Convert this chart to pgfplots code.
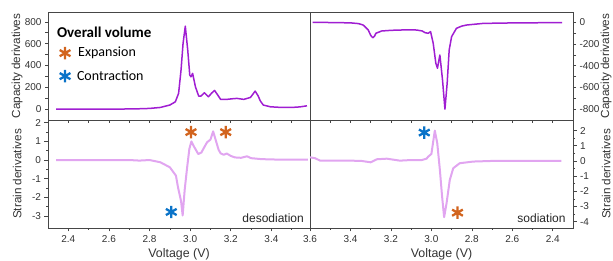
\documentclass[border=0pt]{standalone}
\usepackage{pgfplots}
\pgfplotsset{compat=1.18}
\usepackage{fontspec}
\setmainfont{Liberation Sans}
\newfontfamily\calib{Carlito}
\definecolor{capc}{RGB}{160,30,210}
\definecolor{strc}{RGB}{225,165,240}
\definecolor{expc}{RGB}{210,100,30}
\definecolor{conc}{RGB}{10,115,200}
\definecolor{axc}{RGB}{70,70,70}
\pgfplotsset{
  base/.style={
    scale only axis, width=262pt, height=108pt,
    axis line style={axc, line width=0.8pt},
    every tick/.style={axc, line width=0.6pt},
    tick align=outside,
    major tick length=3.5pt, minor tick length=2pt,
    tick label style={font=\fontsize{10}{12}\selectfont, text=black!80},
    /pgf/number format/assume math mode=true,
    xmin=2.30, clip=true,
  },
  ylab left/.style={every axis y label/.style={at={(axis description cs:-0.118,0.5)}, rotate=90, anchor=center, font=\fontsize{11.7}{13}\selectfont, text=black!80}},
  ylab right/.style={every axis y label/.style={at={(axis description cs:1.126,0.5)}, rotate=90, anchor=center, font=\fontsize{11.7}{13}\selectfont, text=black!80}},
  xlab/.style={every axis x label/.style={at={(axis description cs:0.5,-0.245)}, anchor=center, font=\fontsize{12.4}{14}\selectfont, text=black!80}},
  ast/.style={only marks, mark=asterisk, mark size=6.2pt, line width=2.3pt},
}
\begin{document}
\begin{tikzpicture}
\path[use as bounding box] (0,0) rectangle (613pt,261pt);
% top left
\begin{axis}[base, at={(48pt,141pt)}, anchor=south west,
  xmax=3.59, ymin=-100, ymax=890,
  xtick={2.4,2.6,...,3.6}, minor x tick num=1, xticklabels={},
  xtick pos=bottom, major tick length=3pt, minor tick length=3pt,
  ytick={0,200,400,600,800}, minor y tick num=1, ytick pos=left,
  ylabel={Capacity derivatives}, ylab left,
]
\addplot[capc, line width=1.5pt, line join=round] coordinates {
(2.34,0)(2.50,0)(2.60,0)(2.70,1)(2.75,3)(2.80,6)(2.853,15)(2.90,37)(2.927,67)(2.943,144)
(2.955,357)(2.965,602)(2.976,760)(2.988,541)(2.998,312)(3.004,296)(3.012,327)(3.026,204)
(3.042,119)(3.053,119)(3.07,150)(3.09,113)(3.105,145)(3.12,171)(3.136,128)(3.15,89)
(3.18,89)(3.21,95)(3.23,98)(3.264,89)(3.297,107)(3.32,165)(3.335,120)(3.345,76)(3.36,37)
(3.395,21)(3.45,15)(3.50,15)(3.54,20)(3.575,30)};
\addplot[ast, expc] coordinates {(2.384,513)};
\addplot[ast, conc] coordinates {(2.384,302)};
\node[anchor=west, font=\calib\bfseries\fontsize{15}{17}\selectfont, inner sep=0pt] at (axis description cs:0.034,0.815) {Overall volume};
\node[anchor=west, font=\calib\fontsize{14}{16}\selectfont, inner sep=0pt] at (axis description cs:0.1145,0.62) {Expansion};
\node[anchor=west, font=\calib\fontsize{14}{16}\selectfont, inner sep=0pt] at (axis description cs:0.11,0.407) {Contraction};
\end{axis}
% top right
\begin{axis}[base, at={(310pt,141pt)}, anchor=south west, width=263pt,
  xmax=3.60, x dir=reverse, ymin=-900, ymax=95,
  xtick={2.4,2.6,...,3.6}, minor x tick num=1, xticklabels={},
  xtick pos=bottom, major tick length=3pt, minor tick length=3pt,
  ytick={-800,-600,-400,-200,0}, minor y tick num=1, ytick pos=right,
  ylabel={Capacity derivatives}, ylab right,
]
\addplot[capc, line width=1.5pt, line join=round] coordinates {
(3.587,0)(3.50,-2)(3.40,-5)(3.36,-12)(3.337,-25)(3.312,-71)(3.30,-120)(3.29,-142)(3.282,-130)
(3.274,-101)(3.246,-80)(3.20,-74)(3.156,-71)(3.10,-70)(3.073,-71)(3.045,-80)(3.032,-95)
(3.016,-101)(3.004,-86)(2.991,-193)(2.978,-377)(2.97,-423)(2.958,-301)(2.945,-530)
(2.933,-800)(2.922,-561)(2.912,-255)(2.90,-132)(2.876,-55)(2.85,-35)(2.826,-25)(2.744,-10)
(2.58,-5)(2.354,-3)};
\end{axis}
% bottom left
\begin{axis}[base, at={(48pt,33pt)}, anchor=south west,
  xmax=3.59, ymin=-3.65, ymax=2.15,
  xtick={2.4,2.6,...,3.6}, minor x tick num=1, xtick pos=bottom,
  xticklabel style={/pgf/number format/.cd, fixed, fixed zerofill, precision=1},
  ytick={-3,-2,...,2}, minor y tick num=1, ytick pos=left,
  xlabel={Voltage (V)}, ylabel={Strain derivatives}, ylab left, xlab,
]
\addplot[strc, line width=2pt, line join=round] coordinates {
(2.34,0)(2.50,0)(2.60,0)(2.70,0)(2.75,-0.03)(2.80,0)(2.853,-0.12)(2.90,-0.39)(2.93,-0.84)
(2.94,-1.46)(2.955,-2.2)(2.963,-2.98)(2.973,-1.6)(2.985,-0.4)(2.996,0.6)(3.006,1.0)(3.02,0.7)
(3.04,0.32)(3.055,0.40)(3.07,0.70)(3.083,0.95)(3.10,1.1)(3.113,1.54)(3.125,1.1)(3.14,0.55)
(3.15,0.36)(3.165,0.28)(3.18,0.35)(3.20,0.22)(3.22,0.14)(3.25,0.12)(3.28,0.2)(3.30,0.1)
(3.35,0.05)(3.40,0.03)(3.50,0.02)(3.58,0.02)};
\addplot[ast, expc] coordinates {(3.004,1.5)(3.175,1.5)};
\addplot[ast, conc] coordinates {(2.907,-2.79)};
\node[anchor=east, font=\fontsize{12}{14}\selectfont, text=black!85] at (axis description cs:0.99,0.095) {desodiation};
\end{axis}
% bottom right
\begin{axis}[base, at={(310pt,33pt)}, anchor=south west, width=263pt,
  xmax=3.60, x dir=reverse, ymin=-4.42, ymax=2.7,
  xtick={2.4,2.6,...,3.6}, minor x tick num=1, xtick pos=bottom,
  xticklabel style={/pgf/number format/.cd, fixed, fixed zerofill, precision=1},
  ytick={-4,-3,...,2}, minor y tick num=1, ytick pos=right,
  xlabel={Voltage (V)}, ylabel={Strain derivatives}, ylab right, xlab,
]
\addplot[strc, line width=2pt, line join=round] coordinates {
(3.60,0.24)(3.575,0.18)(3.55,0.02)(3.45,0.02)(3.35,0.01)(3.30,-0.09)(3.27,0.11)(3.22,0.15)
(3.156,0.02)(3.10,0.06)(3.05,0.05)(3.024,0.15)(3.016,0.28)(3.0,0.46)(2.983,2.0)(2.971,1.17)
(2.958,-0.59)(2.947,-2.35)(2.937,-3.71)(2.925,-2.79)(2.909,-1.25)(2.892,-0.48)(2.86,-0.15)
(2.793,-0.04)(2.70,0)(2.357,0)};
\addplot[ast, conc] coordinates {(3.035,1.87)};
\addplot[ast, expc] coordinates {(2.871,-3.41)};
\node[anchor=east, font=\fontsize{12}{14}\selectfont, text=black!85] at (axis description cs:0.985,0.095) {sodiation};
\end{axis}
\end{tikzpicture}
\end{document}
